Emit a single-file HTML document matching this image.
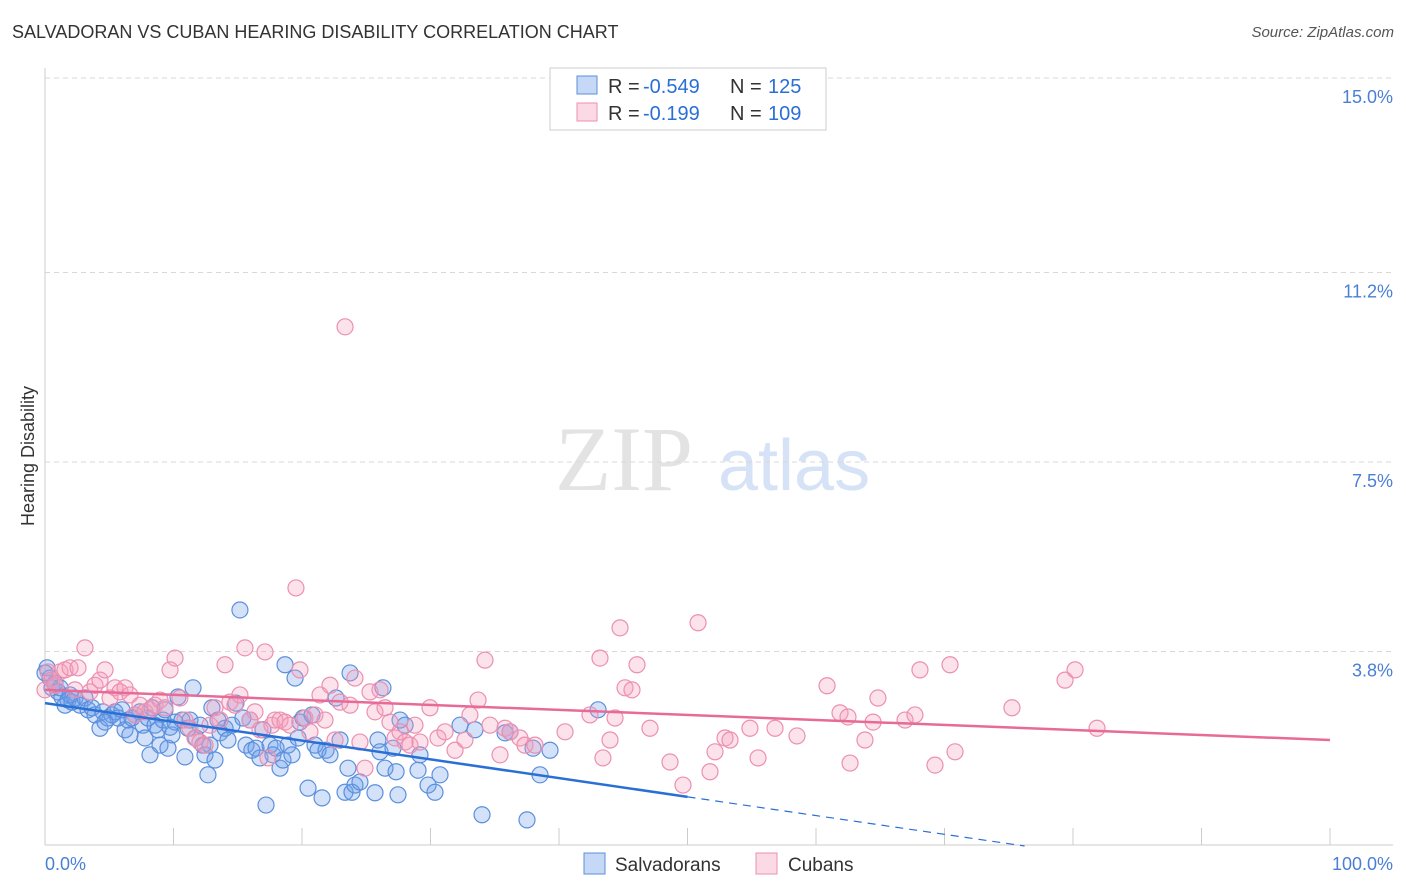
<!DOCTYPE html>
<html><head><meta charset="utf-8">
<style>
body{margin:0;background:#fff;font-family:"Liberation Sans",sans-serif;}
#wrap{position:relative;width:1406px;height:892px;overflow:hidden;}
.t{position:absolute;white-space:nowrap;}
</style></head>
<body>
<div id="wrap">
<div class="t" style="left:12px;top:22px;font-size:18px;color:#333;">SALVADORAN VS CUBAN HEARING DISABILITY CORRELATION CHART</div>
<div class="t" style="right:12px;top:24px;font-size:15px;color:#555;font-style:italic;">Source: ZipAtlas.com</div>
<svg id="svg" width="1406" height="892" style="position:absolute;left:0;top:0"></svg>
</div>
<script>
const yTicks=[3.8,7.5,11.2,15.0];
const yTickLabels=["3.8%","7.5%","11.2%","15.0%"];
const xTickLabels=["0.0%","100.0%"];
const blueX=[0.16,0.39,0.54,0.78,1.01,1.32,1.56,1.79,2.1,2.33,2.72,3.11,3.35,3.66,3.89,4.28,4.51,4.9,5.21,5.45,5.68,5.99,6.23,6.46,6.77,7.0,7.39,7.63,7.78,8.02,8.33,8.56,8.79,8.95,9.18,9.34,9.57,9.88,10.12,10.35,10.66,10.89,11.13,11.28,11.52,11.75,12.06,12.29,12.45,12.68,12.99,13.23,13.46,13.62,14.01,14.24,14.55,14.86,15.17,15.4,15.64,15.95,16.1,16.42,16.73,16.96,17.2,17.51,17.74,17.98,18.29,18.52,18.68,18.91,19.22,19.46,19.69,19.84,20.08,20.47,20.78,21.01,21.25,21.56,21.87,22.18,22.65,22.96,23.35,23.58,23.74,23.89,24.12,24.51,25.68,25.91,26.07,26.3,26.46,27.08,27.32,27.47,27.63,28.02,29.03,29.18,29.81,30.35,30.74,32.3,33.46,34.01,35.8,36.19,37.51,37.98,38.52,39.3,43.04,0,1.17,1.95,4.67,6.61,8.17,9.73,12.84];
const blueY=[3.48,3.28,3.09,3.18,3.01,2.91,2.75,2.85,2.81,2.89,2.75,2.89,2.66,2.7,2.56,2.3,2.62,2.5,2.56,2.62,2.5,2.66,2.27,2.46,2.5,2.56,2.62,2.36,2.11,2.5,2.7,2.36,2.27,1.97,2.46,2.66,1.91,2.17,2.42,2.91,2.46,1.74,2.3,2.46,3.09,2.11,2.36,1.97,1.78,1.39,2.7,1.68,2.46,2.21,2.3,2.07,2.36,2.79,4.61,2.5,1.97,2.46,1.87,1.91,1.72,2.27,0.8,1.97,1.78,1.91,1.52,1.68,3.54,1.97,1.78,3.28,2.11,2.42,2.5,1.13,2.56,1.97,1.87,0.94,1.87,1.78,2.89,2.07,1.05,1.52,3.38,1.05,1.19,1.25,1.04,2.07,1.84,3.09,1.52,1.91,1.45,1.0,2.46,2.36,1.48,1.78,1.19,1.05,1.39,2.36,2.27,0.61,2.21,2.23,0.51,1.91,1.39,1.87,2.66,3.38,3.09,2.95,2.42,2.17,1.78,2.32,1.97];
const pinkX=[0,0.23,0.54,0.78,1.17,1.56,1.95,2.33,2.57,3.11,3.5,3.89,4.28,4.67,5.06,5.45,5.84,6.23,6.61,7.0,7.39,7.78,8.17,8.56,8.95,9.34,9.73,10.12,10.5,10.89,11.28,11.67,12.06,12.45,12.84,13.23,13.62,14.01,14.39,14.78,15.17,15.56,15.95,16.34,16.73,17.12,17.35,17.66,17.9,18.29,18.68,19.07,19.53,19.84,20.23,20.62,21.01,21.4,21.79,22.18,22.57,22.96,23.35,23.74,24.12,24.51,24.9,25.29,25.68,26.07,26.46,26.85,27.24,27.63,28.02,28.4,28.79,29.18,29.96,30.58,31.13,31.91,32.68,33.07,33.7,34.24,34.63,35.41,35.8,36.19,36.96,37.35,38.13,40.47,42.41,43.19,43.42,43.97,44.36,44.75,45.14,45.68,46.07,47.08,48.64,49.65,50.82,51.75,52.14,52.92,53.31,54.86,55.49,56.81,58.52,60.86,61.87,62.49,63.81,64.44,64.82,66.93,67.7,68.09,69.26,70.43,70.82,75.25,79.38,80.16,81.87,62.65];
const pinkY=[3.05,3.4,3.24,3.14,3.4,3.44,3.48,3.05,3.48,3.87,3.01,3.14,3.24,3.44,2.89,3.09,3.01,3.09,2.95,2.56,2.75,2.62,2.66,2.75,2.85,2.7,3.44,3.67,2.89,2.46,2.3,2.11,2.03,1.97,2.36,2.7,2.46,3.54,2.81,2.75,2.95,3.87,2.46,2.62,2.27,3.79,1.72,2.36,2.46,2.46,2.42,2.36,5.04,3.44,2.5,2.23,2.56,2.95,2.46,3.14,2.07,2.81,10.14,2.75,3.28,2.03,1.52,3.01,2.62,3.05,2.7,2.42,2.11,2.23,2.03,1.97,2.36,2.03,2.7,2.11,2.23,1.87,2.07,2.56,2.85,3.63,2.36,1.78,2.3,2.23,2.11,1.97,1.97,2.23,2.56,3.67,1.72,2.07,2.5,4.26,3.09,3.05,3.54,2.3,1.64,1.19,4.36,1.45,1.84,2.11,2.07,2.3,1.72,2.3,2.15,3.13,2.6,2.52,2.07,2.42,2.89,2.46,2.56,3.44,1.58,3.54,1.84,2.7,3.24,3.44,2.3,1.62];
const blueTrend=[2.79,0.96];
const pinkTrend=[3.05,2.07];

const X0=45,X1=1330,Y0=846,PPY=51.2;
const xs=v=>X0+(X1-X0)*v/100;
const ys=v=>Y0-v*PPY;
const svg=document.getElementById('svg');
const NS='http://www.w3.org/2000/svg';
function mk(tag,attrs,parent){const e=document.createElementNS(NS,tag);for(const k in attrs)e.setAttribute(k,attrs[k]);(parent||svg).appendChild(e);return e;}

// watermark
let w=mk('text',{x:555,y:490,'font-size':92,'font-family':'Liberation Serif,serif',fill:'#e3e3e3'});
w.textContent='ZIP';


w=mk('text',{x:718,y:490,'font-size':72,'font-family':'Liberation Sans,sans-serif',fill:'#d6e2f5'});
w.textContent='atlas';



// grid
yTicks.forEach((v,i)=>{
 const g=mk('line',{x1:X0,x2:1393,y1:ys(v),y2:ys(v),stroke:'#d8d8d8','stroke-dasharray':'5,4'});
 
 
 const t=mk('text',{x:1393,y:ys(v)+25,'text-anchor':'end','font-size':18,fill:'#4a7fd4'});
 t.textContent=yTickLabels[i];
 
 
});
let a=mk('line',{x1:X0,x2:X0,y1:68,y2:845,stroke:'#ccc'});


a=mk('line',{x1:X0,x2:1393,y1:845,y2:845,stroke:'#ccc'});


for(let i=0;i<=10;i++){
 const tk=mk('line',{x1:xs(i*10),x2:xs(i*10),y1:828,y2:845,stroke:'#ccc'});
 
 
}
let xl=mk('text',{x:45,y:870,'font-size':18,fill:'#4a7fd4'});xl.textContent=xTickLabels[0];


xl=mk('text',{x:1393,y:870,'text-anchor':'end','font-size':18,fill:'#4a7fd4'});xl.textContent=xTickLabels[1];


let yt=mk('text',{x:34,y:456,'font-size':18,fill:'#333',transform:'rotate(-90 34 456)','text-anchor':'middle'});
yt.textContent='Hearing Disability';



// points
blueX.forEach((x,i)=>{
 const c=mk('circle',{cx:xs(x),cy:ys(blueY[i]),r:8,fill:'rgba(110,160,235,0.3)',stroke:'#5b8fdc','stroke-width':1.2});
 
 
});
pinkX.forEach((x,i)=>{
 const c=mk('circle',{cx:xs(x),cy:ys(pinkY[i]),r:8,fill:'rgba(245,160,190,0.3)',stroke:'#ec8fb0','stroke-width':1.2});
 
 
});
// trends
const bs=(blueTrend[1]-blueTrend[0])/50;
let l=mk('line',{x1:xs(0),y1:ys(blueTrend[0]),x2:xs(50),y2:ys(blueTrend[1]),stroke:'#2a6fd6','stroke-width':2.5});


const xEnd=-blueTrend[0]/bs;
l=mk('line',{x1:xs(50),y1:ys(blueTrend[1]),x2:xs(xEnd),y2:ys(0),stroke:'#2a6fd6','stroke-width':1.2,'stroke-dasharray':'8,6'});


l=mk('line',{x1:xs(0),y1:ys(pinkTrend[0]),x2:xs(100),y2:ys(pinkTrend[1]),stroke:'#e86a96','stroke-width':2.5});



// legend box
const lg=mk('g',{});


mk('rect',{x:550,y:68,width:276,height:62,fill:'#fff',stroke:'#ccc'},lg);
mk('rect',{x:577,y:76,width:20,height:18,fill:'rgba(110,160,235,0.4)',stroke:'#5b8fdc'},lg);
mk('rect',{x:577,y:103,width:20,height:18,fill:'rgba(245,160,190,0.4)',stroke:'#ec8fb0'},lg);
const rows=[["R = ","-0.549","N = ","125",93],["R = "," -0.199","N = ","109",120]];
rows.forEach(r=>{
 let t=mk('text',{x:608,y:r[4],'font-size':20,fill:'#333'},lg);t.textContent=r[0];
 t=mk('text',{x:643,y:r[4],'font-size':20,fill:'#2a6fd6','xml:space':'preserve'},lg);t.textContent=r[1];
 t=mk('text',{x:730,y:r[4],'font-size':20,fill:'#333'},lg);t.textContent=r[2];
 t=mk('text',{x:768,y:r[4],'font-size':20,fill:'#2a6fd6'},lg);t.textContent=r[3];
});
// bottom legend
const bl=mk('g',{});


mk('rect',{x:584,y:853,width:21,height:21,fill:'rgba(110,160,235,0.4)',stroke:'#5b8fdc'},bl);
let bt=mk('text',{x:615,y:871,'font-size':19,fill:'#333'},bl);bt.textContent='Salvadorans';
mk('rect',{x:756,y:853,width:21,height:21,fill:'rgba(245,160,190,0.4)',stroke:'#ec8fb0'},bl);
bt=mk('text',{x:788,y:871,'font-size':19,fill:'#333'},bl);bt.textContent='Cubans';
</script>
</body></html>
